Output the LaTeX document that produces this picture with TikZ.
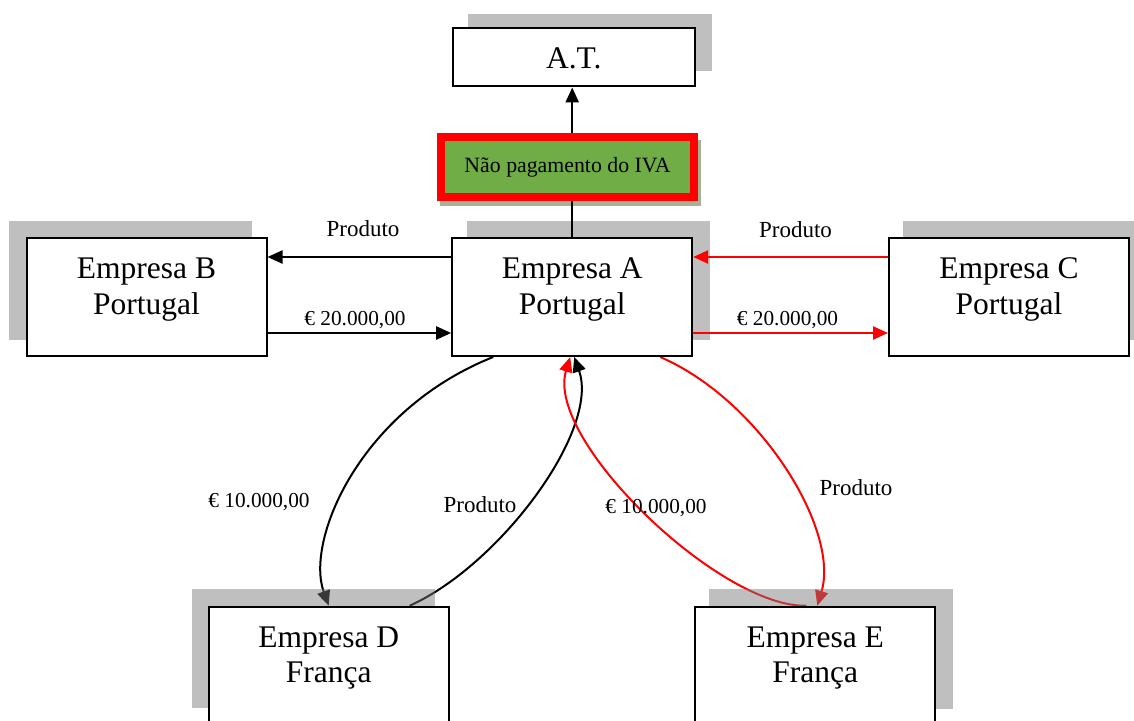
\documentclass[tikz,border=0pt]{standalone}
\usepackage{fontspec}
\setmainfont{Liberation Serif}
\usetikzlibrary{arrows.meta}
\definecolor{shadowgray}{gray}{0.475}
\definecolor{ivagreen}{RGB}{112,173,71}
\definecolor{ivashadow}{RGB}{168,176,152}
% curves lie under the box shadows, shadows under the boxes
\pgfdeclarelayer{curves}
\pgfdeclarelayer{shades}
\pgfsetlayers{curves,shades,main}
\begin{document}
\begin{tikzpicture}[x=1pt,y=-1pt,
  company/.style={draw=black, line width=2pt, fill=white,
    minimum width=240pt, minimum height=118pt, align=center,
    font=\fontsize{31.5}{35.5}\selectfont, text height=56pt, text depth=22pt},
  authority/.style={draw=black, line width=2pt, fill=white,
    minimum width=242pt, minimum height=58.5pt,
    font=\fontsize{31.5}{35.5}\selectfont, text height=22.6pt, text depth=0pt},
  flagbox/.style={draw=red, line width=7.7pt, fill=ivagreen,
    minimum width=252.6pt, minimum height=60pt,
    font=\fontsize{21.8}{25}\selectfont, text height=15pt, text depth=4.7pt},
  boxshade/.style={fill=shadowgray, fill opacity=0.48},
  flow/.style={line width=2.4pt, -{Triangle[length=15pt,width=13pt]}},
  loop/.style={line width=2pt, -{Triangle[length=15pt,width=13pt]}},
  lbl/.style={anchor=base, inner sep=0pt},
  goods/.style={lbl, font=\fontsize{23}{27}\selectfont},
  money/.style={lbl, font=\fontsize{21.3}{25}\selectfont}
]
\useasboundingbox (0,0) rectangle (1134,720);

% box shadows
\begin{pgfonlayer}{shades}
  \fill[boxshade] (468,14) rectangle (712,71);
  \fill[boxshade] (467,221) rectangle (710,340);
  \fill[boxshade] (9,221) rectangle (252,340);
  \fill[boxshade] (903,221) rectangle (1146,340);
  \fill[boxshade] (192,589) rectangle (435,708);
  \fill[boxshade] (709,589) rectangle (953,709);
  \fill[ivashadow] (440,140) rectangle (700.7,205.5);
\end{pgfonlayer}

% companies and tax authority
\node[authority] (at) at (573.7,57.2) {A.T.};
\node[company] (a) at (572.2,297) {Empresa A\\Portugal};
\node[company] (b) at (146.5,297) {Empresa B\\Portugal};
\node[company] (c) at (1009,297) {Empresa C\\Portugal};
\node[company] (d) at (328.7,665.7) {Empresa D\\França};
\node[company] (e) at (815.3,665.7) {Empresa E\\França};

% reporting line up to the tax authority, with the flag on top of it
\draw[flow] (a.north) -- (a.north |- at.south);
\node[flagbox] (iva) at (567.5,167.2) {Não pagamento do IVA};

% domestic flows
\draw[flow] ([yshift=40pt]a.west) -- ([yshift=40pt]b.east);
\draw[flow] ([yshift=-36pt]b.east) -- ([yshift=-36pt]a.west);
\draw[flow, red] ([yshift=40pt]c.west) -- ([yshift=40pt]a.east);
\draw[flow, red] ([yshift=-36pt]a.east) -- ([yshift=-36pt]c.west);

% intra-community flows
\begin{pgfonlayer}{curves}
  \draw[loop] ([xshift=-79pt]a.south) .. controls (360,410) and (305,540) .. (d.north);
  \draw[loop] ([xshift=81pt]d.north) .. controls (500,565) and (600,430) .. ([xshift=2pt]a.south);
  \draw[loop, red] ([xshift=88pt]a.south) .. controls (760,400) and (840,530) .. ([xshift=2pt]e.north);
  \draw[loop, red] ([xshift=-9pt]e.north) .. controls (720,608) and (545,440) .. ([xshift=-2pt]a.south);
\end{pgfonlayer}

% flow labels
\node[goods] (p1) at (363,236.7) {Produto};
\node[money] (m1) at (355,325) {€ 20.000,00};
\node[goods] (p2) at (795.5,237) {Produto};
\node[money] (m2) at (787.5,325) {€ 20.000,00};
\node[money] (m3) at (259,507) {€ 10.000,00};
\node[goods] (p3) at (480,512) {Produto};
\node[money] (m4) at (656,513) {€ 10.000,00};
\node[goods] (p4) at (856,495) {Produto};
\end{tikzpicture}
\end{document}
